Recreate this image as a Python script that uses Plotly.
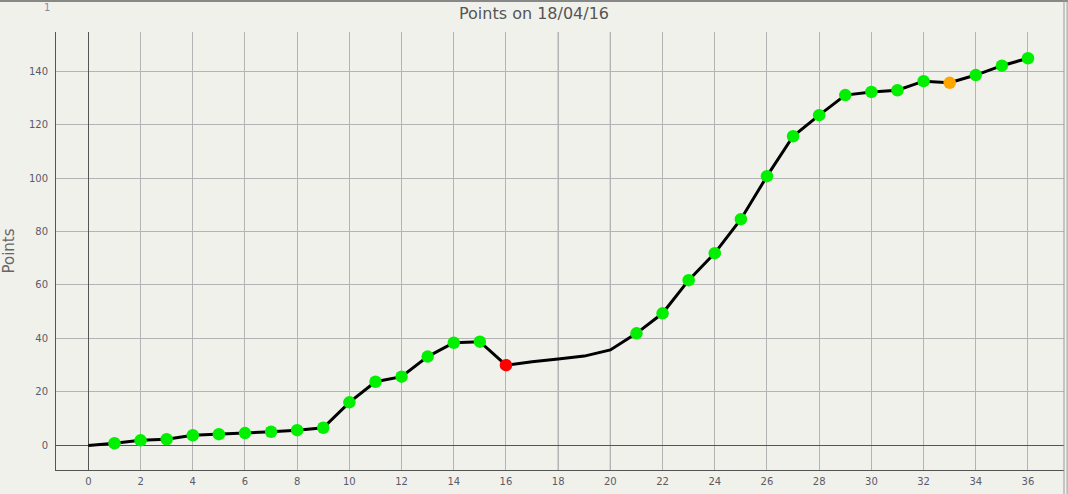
import plotly.graph_objects as go

days = list(range(0, 37))
points = [0, 0.8, 1.9, 2.3, 3.8, 4.2, 4.6, 5.1, 5.7, 6.6,
          16.1, 23.8, 25.7, 33.2, 38.4, 38.8, 30.0, 31.3, 32.3, 33.4,
          35.7, 41.9, 49.4, 61.8, 71.9, 84.6, 100.7, 115.6, 123.5, 131.0,
          132.2, 132.8, 136.2, 135.6, 138.5, 142.0, 144.8]
# marker status per day: None = no marker
status = [None, 'g', 'g', 'g', 'g', 'g', 'g', 'g', 'g', 'g',
          'g', 'g', 'g', 'g', 'g', 'g', 'r', None, None, None,
          None, 'g', 'g', 'g', 'g', 'g', 'g', 'g', 'g', 'g',
          'g', 'g', 'g', 'o', 'g', 'g', 'g']
status_colors = {'g': '#00f000', 'r': '#ff0000', 'o': '#ffa500'}
x_ticks = list(range(0, 37, 2))
y_ticks = list(range(0, 141, 20))
title_text = "Points on 18/04/16"
y_title = "Points"

mx = [d for d, s in zip(days, status) if s]
my = [p for p, s in zip(points, status) if s]
mc = [status_colors[s] for s in status if s]

fig = go.Figure()
fig.add_trace(go.Scatter(x=days, y=points, mode='lines',
                         line=dict(color='black', width=3), hoverinfo='skip'))
fig.add_trace(go.Scatter(x=mx, y=my, mode='markers',
                         marker=dict(color=mc, size=12.5, line=dict(width=0))))

bg = '#f1f1ec'
fig.update_layout(
    width=1068, height=494,
    margin=dict(l=56, r=4, t=32, b=24),
    paper_bgcolor=bg, plot_bgcolor=bg,
    showlegend=False,
    title=dict(text=title_text, x=0.5, xanchor='center', y=0.985, yanchor='top',
               font=dict(family='DejaVu Sans', size=16, color='#555555')),
    font=dict(family='DejaVu Sans', size=10, color='#5a5a6a'),
)
fig.update_xaxes(range=[-1.24, 37.38], tickvals=x_ticks, showgrid=True,
                 gridcolor='#b4b4b4', gridwidth=1, zeroline=True,
                 zerolinecolor='#555555', zerolinewidth=1,
                 showline=True, linecolor='#555555', linewidth=1,
                 ticks='', ticklabelstandoff=2)
fig.update_yaxes(range=[-9.2, 154.6], tickvals=y_ticks, showgrid=True,
                 gridcolor='#b4b4b4', gridwidth=1, zeroline=True,
                 zerolinecolor='#555555', zerolinewidth=1,
                 showline=True, linecolor='#555555', linewidth=1,
                 ticks='', ticklabelstandoff=5,
                 title=dict(text=y_title, standoff=14,
                            font=dict(family='DejaVu Sans', size=15, color='#666666')))

# special vertical markers
fig.add_shape(type='line', x0=20, x1=20, y0=0, y1=1, yref='y domain',
              line=dict(color='#555555', width=1), layer='below')
fig.add_shape(type='line', x0=18, x1=18, y0=0, y1=1, yref='y domain',
              line=dict(color='#e07878', width=1), layer='below')
# frame lines
fig.add_shape(type='line', xref='paper', yref='paper', x0=-0.06, x1=1.004,
              y0=1.071, y1=1.071, line=dict(color='#888888', width=2))
fig.add_shape(type='line', xref='paper', yref='paper', x0=1.0, x1=1.0,
              y0=-0.06, y1=1.08, line=dict(color='#999999', width=1))
fig.add_shape(type='line', xref='paper', yref='paper', x0=1.0031, x1=1.0031,
              y0=-0.06, y1=1.08, line=dict(color='#999999', width=1))
fig.add_annotation(text='1', xref='paper', yref='paper', x=-0.009, y=1.055,
                   showarrow=False, font=dict(size=10, color='#8888aa'),
                   xanchor='center', yanchor='middle')

fig.write_html("out.html", config={'displayModeBar': False},
               post_script="document.body.style.margin='0';document.body.style.overflow='hidden';")
